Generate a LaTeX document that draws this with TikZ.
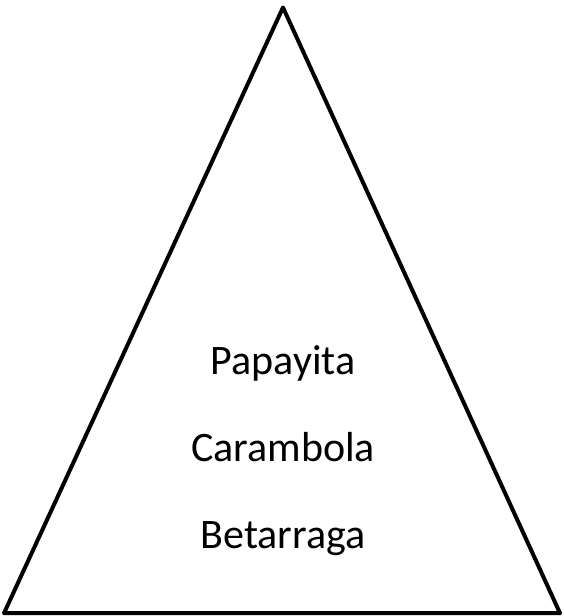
\documentclass[tikz,border=0pt]{standalone}
\usepackage{fontspec}
\setmainfont{Carlito}
\begin{document}
\begin{tikzpicture}[x=1pt,y=-1pt,
  edge/.style={draw=black,line width=4pt,line join=round},
  label/.style={font=\fontsize{42}{50}\selectfont,anchor=base,inner sep=0pt}]
\useasboundingbox (0,0) rectangle (563,616);
\coordinate (apex) at (283,7.5);
\coordinate (bl) at (4,613.2);
\coordinate (br) at (560,613.2);
\draw[edge] (apex) -- (br) -- (bl) -- cycle;
\node[label] (papayita) at (283,374.5) {Papayita};
\node[label] (carambola) at (283,461) {Carambola};
\node[label] (betarraga) at (283,548) {Betarraga};
\end{tikzpicture}
\end{document}
